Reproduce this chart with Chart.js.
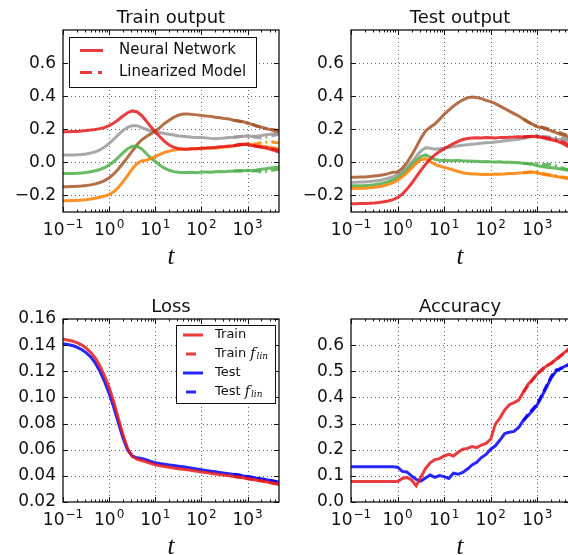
<!DOCTYPE html>
<html>
<head>
<meta charset="utf-8">
<script src="https://cdn.jsdelivr.net/npm/chart.js@4.4.1/dist/chart.umd.min.js"></script>
<style>
  body { margin: 0; background: #fff; }
  #wrap { position: relative; width: 568px; height: 555px; overflow: hidden; }
  #wrap canvas { position: absolute; }
</style>
</head>
<body>
<div id="wrap">
  <canvas id="train-output" width="284" height="277" style="left:0;top:0"></canvas>
  <canvas id="test-output" width="290" height="277" style="left:284px;top:0"></canvas>
  <canvas id="loss" width="284" height="278" style="left:0;top:277px"></canvas>
  <canvas id="accuracy" width="290" height="278" style="left:284px;top:277px"></canvas>
</div>
<script>
// time steps, 0.1 decade apart
var T = [0.1, 0.1259, 0.1585, 0.1995, 0.2512, 0.3162, 0.3981, 0.5012, 0.631, 0.7943,
         1, 1.259, 1.585, 1.995, 2.512, 3.162, 3.981, 5.012, 6.31, 7.943,
         10, 12.59, 15.85, 19.95, 25.12, 31.62, 39.81, 50.12, 63.1, 79.43,
         100, 125.9, 158.5, 199.5, 251.2, 316.2, 398.1, 501.2, 631, 794.3,
         1000, 1259, 1585, 1995, 2512, 3162, 3981, 5012];
// late part where the linearized curves separate from the network
var T_TAIL = [501.2, 631, 794.3, 1000, 1259, 1585, 1995, 2512, 3162, 3981, 5012];

// train outputs (neural network)
var trainRed = [0.185, 0.185, 0.186, 0.187, 0.190, 0.192, 0.195, 0.199, 0.204, 0.211,
                0.222, 0.238, 0.258, 0.280, 0.300, 0.311, 0.306, 0.285, 0.252, 0.216,
                0.185, 0.155, 0.127, 0.105, 0.091, 0.084, 0.081, 0.080, 0.082, 0.083,
                0.086, 0.087, 0.089, 0.090, 0.094, 0.096, 0.099, 0.101, 0.106, 0.110,
                0.108, 0.101, 0.096, 0.091, 0.086, 0.079, 0.070, 0.062];
var trainOrange = [-0.232, -0.232, -0.231, -0.230, -0.228, -0.226, -0.222, -0.217, -0.211, -0.204,
                   -0.195, -0.178, -0.152, -0.118, -0.080, -0.040, -0.008, 0.008, 0.013, 0.022,
                   0.035, 0.048, 0.060, 0.068, 0.074, 0.078, 0.080, 0.081, 0.083, 0.082,
                   0.085, 0.086, 0.088, 0.087, 0.090, 0.093, 0.095, 0.100, 0.103, 0.108,
                   0.112, 0.105, 0.100, 0.098, 0.095, 0.090, 0.085, 0.080];
var trainGreen = [-0.068, -0.068, -0.067, -0.066, -0.064, -0.061, -0.057, -0.051, -0.043, -0.032,
                  -0.017, 0.005, 0.030, 0.057, 0.082, 0.097, 0.097, 0.082, 0.055, 0.027,
                  0.005, -0.017, -0.035, -0.048, -0.056, -0.060, -0.062, -0.061, -0.060, -0.062,
                  -0.059, -0.058, -0.060, -0.057, -0.055, -0.056, -0.053, -0.052, -0.050, -0.051,
                  -0.048, -0.050, -0.046, -0.042, -0.038, -0.034, -0.031, -0.028];
var trainBrown = [-0.147, -0.147, -0.146, -0.145, -0.143, -0.140, -0.136, -0.130, -0.122, -0.110,
                  -0.094, -0.070, -0.040, -0.005, 0.030, 0.068, 0.105, 0.135, 0.155, 0.172,
                  0.190, 0.210, 0.235, 0.255, 0.272, 0.285, 0.292, 0.293, 0.290, 0.287,
                  0.283, 0.280, 0.278, 0.273, 0.270, 0.265, 0.262, 0.255, 0.250, 0.245,
                  0.238, 0.230, 0.220, 0.212, 0.205, 0.198, 0.190, 0.185];
var trainGray = [0.044, 0.044, 0.045, 0.046, 0.048, 0.051, 0.056, 0.064, 0.075, 0.092,
                 0.115, 0.140, 0.168, 0.193, 0.212, 0.222, 0.222, 0.212, 0.200, 0.190,
                 0.185, 0.180, 0.175, 0.170, 0.165, 0.160, 0.158, 0.155, 0.152, 0.150,
                 0.150, 0.148, 0.145, 0.143, 0.145, 0.147, 0.150, 0.152, 0.155, 0.158,
                 0.160, 0.158, 0.160, 0.163, 0.167, 0.170, 0.173, 0.175];
// train outputs (linearized model), tail only
var trainLinRed = [0.101, 0.106, 0.110, 0.108, 0.103, 0.098, 0.094, 0.090, 0.085, 0.078, 0.070];
var trainLinOrange = [0.100, 0.104, 0.109, 0.113, 0.110, 0.112, 0.118, 0.122, 0.125, 0.120, 0.118];
var trainLinGreen = [-0.052, -0.050, -0.052, -0.050, -0.055, -0.050, -0.060, -0.055, -0.050, -0.045, -0.040];
var trainLinBrown = [0.255, 0.250, 0.245, 0.238, 0.230, 0.220, 0.212, 0.205, 0.200, 0.195, 0.190];
var trainLinGray = [0.152, 0.155, 0.158, 0.160, 0.155, 0.150, 0.148, 0.152, 0.158, 0.165, 0.170];

// test outputs (neural network)
var testRed = [-0.250, -0.250, -0.249, -0.248, -0.247, -0.245, -0.242, -0.238, -0.233, -0.225,
               -0.213, -0.192, -0.163, -0.128, -0.088, -0.048, -0.012, 0.020, 0.045, 0.065,
               0.082, 0.098, 0.113, 0.127, 0.138, 0.144, 0.147, 0.149, 0.147, 0.150,
               0.149, 0.148, 0.151, 0.150, 0.152, 0.153, 0.155, 0.154, 0.156, 0.157,
               0.155, 0.150, 0.142, 0.136, 0.130, 0.120, 0.105, 0.090];
var testOrange = [-0.158, -0.158, -0.157, -0.156, -0.154, -0.151, -0.147, -0.141, -0.133, -0.122,
                  -0.108, -0.088, -0.063, -0.035, -0.007, 0.015, 0.022, 0.005, -0.012, -0.022,
                  -0.030, -0.038, -0.046, -0.055, -0.063, -0.068, -0.070, -0.071, -0.073, -0.072,
                  -0.073, -0.071, -0.072, -0.070, -0.068, -0.067, -0.065, -0.063, -0.060, -0.058,
                  -0.063, -0.070, -0.076, -0.080, -0.085, -0.090, -0.095, -0.100];
var testGreen = [-0.142, -0.142, -0.141, -0.140, -0.138, -0.135, -0.131, -0.125, -0.117, -0.106,
                 -0.092, -0.072, -0.047, -0.018, 0.012, 0.035, 0.045, 0.032, 0.018, 0.013,
                 0.012, 0.011, 0.010, 0.012, 0.009, 0.008, 0.006, 0.007, 0.004, 0.005,
                 0.003, 0.002, 0.004, 0.000, 0.001, -0.001, -0.003, -0.005, -0.008, -0.010,
                 -0.020, -0.025, -0.030, -0.033, -0.036, -0.040, -0.045, -0.050];
var testBrown = [-0.090, -0.090, -0.089, -0.088, -0.086, -0.083, -0.080, -0.075, -0.068, -0.060,
                 -0.058, -0.036, -0.002, 0.042, 0.092, 0.145, 0.190, 0.212, 0.232, 0.260,
                 0.290, 0.315, 0.340, 0.360, 0.378, 0.390, 0.395, 0.392, 0.385, 0.375,
                 0.367, 0.355, 0.340, 0.325, 0.310, 0.295, 0.280, 0.262, 0.245, 0.230,
                 0.215, 0.210, 0.200, 0.190, 0.180, 0.170, 0.160, 0.150];
var testGray = [-0.120, -0.120, -0.119, -0.118, -0.116, -0.113, -0.109, -0.103, -0.096, -0.087,
                -0.074, -0.055, -0.030, 0.000, 0.035, 0.068, 0.088, 0.086, 0.080, 0.082,
                0.086, 0.090, 0.095, 0.100, 0.104, 0.107, 0.110, 0.112, 0.116, 0.118,
                0.120, 0.123, 0.126, 0.130, 0.133, 0.136, 0.140, 0.146, 0.152, 0.158,
                0.160, 0.155, 0.150, 0.145, 0.140, 0.138, 0.134, 0.130];
// test outputs (linearized model), tail only
var testLinRed = [0.154, 0.156, 0.157, 0.156, 0.153, 0.148, 0.142, 0.136, 0.128, 0.118, 0.105];
var testLinOrange = [-0.063, -0.060, -0.058, -0.060, -0.066, -0.072, -0.077, -0.082, -0.087, -0.092, -0.097];
var testLinGreen = [-0.005, -0.008, -0.010, -0.008, -0.012, -0.015, -0.010, -0.020, -0.030, -0.040, -0.045];
var testLinBrown = [0.262, 0.245, 0.230, 0.218, 0.212, 0.205, 0.197, 0.188, 0.178, 0.168, 0.158];
var testLinGray = [0.146, 0.152, 0.158, 0.162, 0.158, 0.155, 0.152, 0.150, 0.147, 0.143, 0.140];

// loss
var lossTrain = [0.1445, 0.1440, 0.1432, 0.1420, 0.1402, 0.1378, 0.1345, 0.1300, 0.1240, 0.1165,
                 0.1075, 0.0965, 0.0840, 0.0715, 0.0610, 0.0550, 0.0528, 0.0518, 0.0508, 0.0495,
                 0.0485, 0.0478, 0.0472, 0.0466, 0.0460, 0.0455, 0.0450, 0.0446, 0.0441, 0.0436,
                 0.0430, 0.0425, 0.0420, 0.0415, 0.0410, 0.0405, 0.0400, 0.0395, 0.0390, 0.0385,
                 0.0378, 0.0372, 0.0366, 0.0360, 0.0354, 0.0347, 0.0340, 0.0333];
var lossTest = [0.1410, 0.1405, 0.1397, 0.1385, 0.1367, 0.1343, 0.1310, 0.1263, 0.1200, 0.1122,
                0.1030, 0.0925, 0.0805, 0.0690, 0.0598, 0.0552, 0.0538, 0.0533, 0.0524, 0.0510,
                0.0500, 0.0494, 0.0489, 0.0484, 0.0479, 0.0474, 0.0469, 0.0464, 0.0458, 0.0452,
                0.0446, 0.0441, 0.0436, 0.0431, 0.0426, 0.0421, 0.0416, 0.0411, 0.0406, 0.0400,
                0.0394, 0.0388, 0.0382, 0.0376, 0.0370, 0.0364, 0.0357, 0.0350];
var lossTrainLin = [0.0396, 0.0391, 0.0386, 0.0380, 0.0374, 0.0368, 0.0362, 0.0356, 0.0349, 0.0342, 0.0335];
var lossTestLin = [0.0412, 0.0407, 0.0401, 0.0395, 0.0389, 0.0383, 0.0377, 0.0371, 0.0365, 0.0358, 0.0351];

// accuracy
var accTrain = [0.078, 0.078, 0.078, 0.078, 0.078, 0.078, 0.078, 0.078, 0.078, 0.078,
                0.078, 0.090, 0.094, 0.084, 0.062, 0.095, 0.128, 0.150, 0.162, 0.166,
                0.176, 0.182, 0.176, 0.190, 0.202, 0.205, 0.212, 0.208, 0.218, 0.224,
                0.240, 0.298, 0.322, 0.352, 0.372, 0.380, 0.390, 0.420, 0.450, 0.468,
                0.490, 0.508, 0.520, 0.530, 0.545, 0.560, 0.574, 0.590];
var accTest = [0.135, 0.135, 0.135, 0.135, 0.135, 0.135, 0.135, 0.135, 0.135, 0.135,
               0.133, 0.117, 0.115, 0.100, 0.086, 0.080, 0.092, 0.103, 0.094, 0.101,
               0.097, 0.090, 0.110, 0.106, 0.113, 0.126, 0.142, 0.152, 0.170, 0.182,
               0.202, 0.215, 0.237, 0.262, 0.267, 0.270, 0.285, 0.312, 0.330, 0.350,
               0.372, 0.405, 0.440, 0.475, 0.500, 0.510, 0.520, 0.525];
var accTrainLin = [0.420, 0.445, 0.468, 0.490, 0.505, 0.520, 0.532, 0.545, 0.558, 0.572, 0.585];
var accTestLin = [0.310, 0.335, 0.355, 0.375, 0.410, 0.445, 0.480, 0.505, 0.510, 0.520, 0.528];

// ticks
var X_DECADES = [0.1, 1, 10, 100, 1000];
var X_EXPONENTS = ['\u22121', '0', '1', '2', '3'];
var OUT_TICKS = [-0.2, 0, 0.2, 0.4, 0.6];
var OUT_LABELS = ['\u22120.2', '0.0', '0.2', '0.4', '0.6'];
var LOSS_TICKS = [0.02, 0.04, 0.06, 0.08, 0.10, 0.12, 0.14, 0.16];
var LOSS_LABELS = ['0.02', '0.04', '0.06', '0.08', '0.10', '0.12', '0.14', '0.16'];
var ACC_TICKS = [0, 0.1, 0.2, 0.3, 0.4, 0.5, 0.6];
var ACC_LABELS = ['0.0', '0.1', '0.2', '0.3', '0.4', '0.5', '0.6'];

var RED = 'rgba(228,26,28,0.85)';
var ORANGE = 'rgba(255,127,0,0.85)';
var GREEN = 'rgba(77,175,74,0.85)';
var BROWN = 'rgba(166,86,40,0.85)';
var GRAY = 'rgba(153,153,153,0.85)';
var BLUE = 'rgba(0,0,255,0.85)';

var SANS = '"DejaVu Sans", sans-serif';
var T_MAX = 4800;

function pts(xs, ys) {
    return xs.map(function(x, i) { return { x: x, y: ys[i] }; });
}
function solid(ys, color) {
    return { data: pts(T, ys), borderColor: color, borderWidth: 3, clip: 0 };
}
function dashed(ys, color, dash) {
    return { data: pts(T_TAIL, ys), borderColor: color, borderWidth: 3, borderDash: dash, clip: 0 };
}

function line(ctx, x1, y1, x2, y2) {
    ctx.beginPath();
    ctx.moveTo(x1, y1);
    ctx.lineTo(x2, y2);
    ctx.stroke();
}

// f_lin drawn as italic f with a small italic subscript
function drawFlin(ctx, x, y) {
    ctx.font = 'italic 14px "DejaVu Serif", serif';
    ctx.fillText('f', x, y);
    var w = ctx.measureText('f').width;
    ctx.font = 'italic 9px "DejaVu Serif", serif';
    ctx.fillText('lin', x + w + 1, y + 3);
}

// grid, frame, ticks, labels, title and legend for one panel
function decor(cfg) {
    return {
        id: 'decor',
        beforeDatasetsDraw: function(chart) {
            var ctx = chart.ctx, a = chart.chartArea, xs = chart.scales.x, ys = chart.scales.y;
            ctx.save();
            ctx.strokeStyle = 'rgba(0,0,0,0.6)';
            ctx.lineWidth = 1;
            ctx.setLineDash([1, 3]);
            X_DECADES.forEach(function(v) {
                if (v <= xs.min || v >= xs.max) return;
                var px = Math.round(xs.getPixelForValue(v)) + 0.5;
                line(ctx, px, a.top, px, a.bottom);
            });
            cfg.yTicks.forEach(function(v) {
                if (v <= ys.min + 1e-9 || v >= ys.max - 1e-9) return;
                var py = Math.round(ys.getPixelForValue(v)) + 0.5;
                line(ctx, a.left, py, a.right, py);
            });
            ctx.restore();
        },
        afterDatasetsDraw: function(chart) {
            var ctx = chart.ctx, a = chart.chartArea, xs = chart.scales.x, ys = chart.scales.y;
            ctx.save();
            ctx.strokeStyle = '#111';
            ctx.fillStyle = '#111';
            ctx.lineWidth = 1;

            // minor ticks on the log axis
            for (var k = -1; k <= 3; k++) {
                for (var m = 2; m <= 9; m++) {
                    var v = m * Math.pow(10, k);
                    if (v >= xs.max) continue;
                    var px = Math.round(xs.getPixelForValue(v)) + 0.5;
                    line(ctx, px, a.bottom, px, a.bottom - 2.5);
                    line(ctx, px, a.top, px, a.top + 2.5);
                }
            }
            // major ticks
            X_DECADES.forEach(function(v) {
                var px = Math.round(xs.getPixelForValue(v)) + 0.5;
                line(ctx, px, a.bottom, px, a.bottom - 5);
                line(ctx, px, a.top, px, a.top + 5);
            });
            cfg.yTicks.forEach(function(v) {
                var py = Math.round(ys.getPixelForValue(v)) + 0.5;
                line(ctx, a.left, py, a.left + 5, py);
                line(ctx, a.right, py, a.right - 5, py);
            });

            // frame
            ctx.lineWidth = 1.3;
            ctx.strokeRect(a.left, a.top, a.right - a.left, a.bottom - a.top);

            // y tick labels
            ctx.font = '17px ' + SANS;
            ctx.textAlign = 'right';
            ctx.textBaseline = 'middle';
            cfg.yTicks.forEach(function(v, i) {
                ctx.fillText(cfg.yLabels[i], a.left - 7, ys.getPixelForValue(v));
            });

            // x tick labels as powers of ten
            ctx.textAlign = 'left';
            ctx.textBaseline = 'alphabetic';
            X_DECADES.forEach(function(v, i) {
                var cx = xs.getPixelForValue(v);
                ctx.font = '17px ' + SANS;
                var w1 = ctx.measureText('10').width;
                ctx.font = '12px ' + SANS;
                var w2 = ctx.measureText(X_EXPONENTS[i]).width;
                var x0 = cx - (w1 + 1 + w2) / 2;
                var base = a.bottom + 23;
                ctx.font = '17px ' + SANS;
                ctx.fillText('10', x0, base);
                ctx.font = '12px ' + SANS;
                ctx.fillText(X_EXPONENTS[i], x0 + w1 + 1, base - 7.5);
            });

            // axis label and title
            var mid = (a.left + a.right) / 2;
            ctx.textAlign = 'center';
            ctx.font = 'italic 25px "Liberation Serif", serif';
            ctx.fillText('t', mid, a.bottom + 52);
            ctx.font = '18px ' + SANS;
            ctx.fillText(cfg.title, mid, a.top - 7);

            // legend
            var lg = cfg.legend;
            if (lg) {
                var bx = a.left + lg.dx, by = a.top + lg.dy;
                ctx.fillStyle = '#fff';
                ctx.fillRect(bx, by, lg.w, lg.h);
                ctx.lineWidth = 1;
                ctx.strokeStyle = '#111';
                ctx.strokeRect(bx + 0.5, by + 0.5, lg.w, lg.h);
                lg.rows.forEach(function(r, i) {
                    var ry = by + lg.first + i * lg.step;
                    ctx.strokeStyle = r.color;
                    ctx.lineWidth = 3;
                    ctx.setLineDash(r.dash || []);
                    line(ctx, bx + r.x1, ry, bx + r.x2, ry);
                    ctx.setLineDash([]);
                    ctx.fillStyle = '#111';
                    ctx.textAlign = 'left';
                    ctx.textBaseline = 'middle';
                    ctx.font = lg.font;
                    ctx.fillText(r.text, bx + lg.tx, ry);
                    if (r.flin) {
                        var w = ctx.measureText(r.text).width;
                        drawFlin(ctx, bx + lg.tx + w, ry);
                    }
                });
            }
            ctx.restore();
        }
    };
}

function makeChart(id, datasets, yMin, yMax, pad, cfg) {
    return new Chart(document.getElementById(id), {
        type: 'line',
        data: { datasets: datasets },
        options: {
            responsive: false,
            animation: false,
            events: [],
            layout: { padding: pad },
            elements: { point: { radius: 0 }, line: { tension: 0, borderCapStyle: 'butt' } },
            plugins: { legend: { display: false }, tooltip: { enabled: false } },
            scales: {
                x: { type: 'logarithmic', min: 0.1, max: T_MAX, display: false },
                y: { type: 'linear', min: yMin, max: yMax, display: false }
            }
        },
        plugins: [decor(cfg)]
    });
}

var DASH_DOT = [9, 4, 2, 4];
var DASH = [8, 4];

makeChart('train-output', [
    solid(trainRed, RED), dashed(trainLinRed, RED, DASH_DOT),
    solid(trainOrange, ORANGE), dashed(trainLinOrange, ORANGE, DASH_DOT),
    solid(trainGreen, GREEN), dashed(trainLinGreen, GREEN, DASH_DOT),
    solid(trainBrown, BROWN), dashed(trainLinBrown, BROWN, DASH_DOT),
    solid(trainGray, GRAY), dashed(trainLinGray, GRAY, DASH_DOT)
], -0.3, 0.8, { left: 63, right: 5, top: 30, bottom: 65 }, {
    title: 'Train output', yTicks: OUT_TICKS, yLabels: OUT_LABELS,
    legend: {
        dx: 6, dy: 7, w: 187, h: 50, first: 13.5, step: 22, tx: 50,
        font: '15px ' + SANS,
        rows: [
            { text: 'Neural Network', color: RED, x1: 11, x2: 34 },
            { text: 'Linearized Model', color: RED, x1: 11, x2: 34, dash: [12, 6, 4, 10] }
        ]
    }
});

makeChart('test-output', [
    solid(testRed, RED), dashed(testLinRed, RED, DASH_DOT),
    solid(testOrange, ORANGE), dashed(testLinOrange, ORANGE, DASH_DOT),
    solid(testGreen, GREEN), dashed(testLinGreen, GREEN, DASH_DOT),
    solid(testBrown, BROWN), dashed(testLinBrown, BROWN, DASH_DOT),
    solid(testGray, GRAY), dashed(testLinGray, GRAY, DASH_DOT)
], -0.3, 0.8, { left: 67, right: 5, top: 30, bottom: 65 }, {
    title: 'Test output', yTicks: OUT_TICKS, yLabels: OUT_LABELS
});

makeChart('loss', [
    solid(lossTrain, RED), dashed(lossTrainLin, RED, DASH),
    solid(lossTest, BLUE), dashed(lossTestLin, BLUE, DASH)
], 0.02, 0.16, { left: 63, right: 5, top: 42, bottom: 53 }, {
    title: 'Loss', yTicks: LOSS_TICKS, yLabels: LOSS_LABELS,
    legend: {
        dx: 113, dy: 6, w: 99, h: 78, first: 10, step: 19, tx: 39,
        font: '13px ' + SANS,
        rows: [
            { text: 'Train', color: RED, x1: 7, x2: 27 },
            { text: 'Train ', color: RED, x1: 10, x2: 20, flin: true },
            { text: 'Test', color: BLUE, x1: 7, x2: 27 },
            { text: 'Test ', color: BLUE, x1: 10, x2: 20, flin: true }
        ]
    }
});

makeChart('accuracy', [
    solid(accTrain, RED), dashed(accTrainLin, RED, DASH),
    solid(accTest, BLUE), dashed(accTestLin, BLUE, DASH)
], 0, 0.7, { left: 67, right: 5, top: 42, bottom: 53 }, {
    title: 'Accuracy', yTicks: ACC_TICKS, yLabels: ACC_LABELS
});
</script>
</body>
</html>
